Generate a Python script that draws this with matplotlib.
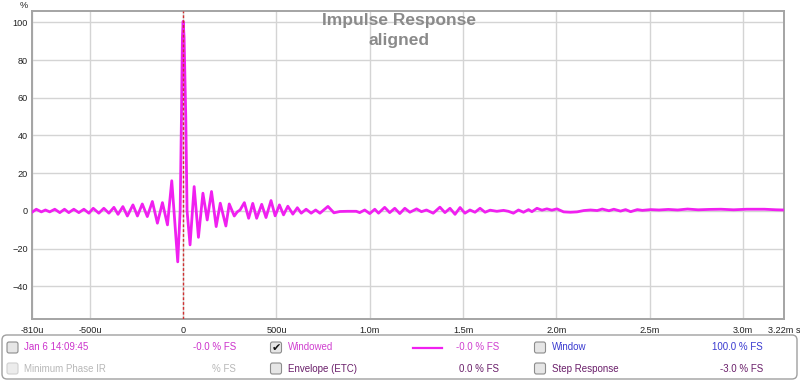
import numpy as np
import matplotlib
matplotlib.use("Agg")
import matplotlib.pyplot as plt
from matplotlib.patches import FancyBboxPatch

plt.rcParams['font.family'] = ['Liberation Sans', 'DejaVu Sans']

# impulse response (time in microseconds, value in %)
timeUs = [-810, -787, -760, -738, -715, -688, -661, -636, -613, -586, -559, -532,
          -505, -482, -452, -425, -398, -371, -349, -323, -299, -269, -245, -219,
          -192, -165, -138, -111, -84, -61, -29, -16, -9, -4, 0, 5, 14, 21, 37,
          59, 82, 106, 129, 152, 177, 199, 229, 247, 274, 290, 305, 328, 351, 373,
          394, 421, 444, 471, 493, 516, 538, 561, 588, 612, 633, 659, 686, 710,
          733, 776, 808, 840, 880, 928, 946, 973, 1000, 1027, 1047, 1080, 1107,
          1134, 1161, 1188, 1215, 1251, 1277, 1304, 1340, 1376, 1403, 1430, 1457,
          1484, 1510, 1537, 1564, 1591, 1618, 1645, 1681, 1717, 1743, 1770, 1797,
          1824, 1851, 1869, 1896, 1923, 1949, 1976, 2003, 2039, 2075, 2111, 2147,
          2183, 2219, 2246, 2282, 2308, 2344, 2371, 2398, 2434, 2461, 2506, 2550,
          2600, 2650, 2703, 2760, 2820, 2882, 2950, 3020, 3115, 3180, 3220]
response = [-0.7, 0.9, -0.5, 0.5, -0.5, 0.9, -0.9, 0.9, -0.9, 0.9, -0.9, 0.9,
            -1.2, 1.4, -1.2, 1.4, -1.2, 1.9, -1.8, 2.3, -2.7, 3.2, -2.7, 3.7,
            -3.0, 5.0, -6.5, 4.4, -7.4, 16.0, -27.0, 0.0, 50.0, 92.0, 100.5, 92.0, 50.0, 0.0, -18.0,
            12.9, -14.0, 9.4, -4.8, 10.3, -8.3, 4.1, -8.0, 3.7, -2.7, -0.5, 0.5, 4.4, -3.9, 4.0,
            -3.9, 3.5, -3.5, 5.5, -2.6, 3.2, -2.1, 2.5, -1.7, 1.7, -1.2, 0.9, -1.2, 0.5,
            -1.2, 2.4, -1.0, -0.3, -0.2, -0.2, -0.9, 0.5, -1.4, 0.9, -1.2, 1.9, -0.9,
            1.4, -1.4, 1.4, -0.7, 1.1, -0.4, 0.5, -1.2, 2.0, -0.9, 1.4, -1.8,
            1.8, -1.2, 0.5, -0.7, 1.4, -0.7, 0.4, -0.2, 0.3, -0.2, -1.2, 0.5,
            -0.7, 0.7, -0.4, 1.4, 0.4, 1.1, 0.4, 1.1, -0.5, -0.7, -0.5, 0.2,
            0.5, 0.2, 1.0, 0.1, 0.9, -0.1, 0.7, -0.4, 0.7, 0.3, 0.7, 0.5,
            0.8, 0.5, 1.0, 0.6, 0.8, 0.9, 0.6, 0.9, 0.9, 0.6, 0.5]

xTicks = [-810, -500, 0, 500, 1000, 1500, 2000, 2500, 3000, 3220]
xLabels = ["-810u", "-500u", "0", "500u", "1.0m", "1.5m", "2.0m", "2.5m", "3.0m", "3.22m s"]
yTicks = [-40, -20, 0, 20, 40, 60, 80, 100]

# legend rows: (checkbox state, name, name colour, value text, value colour)
legendCol1 = [("off", "Jan 6 14:09:45", "#cc33cc", "-0.0 % FS", "#cc33cc"),
              ("disabled", "Minimum Phase IR", "#b8b8b8", "% FS", "#b8b8b8")]
legendCol2 = [("on", "Windowed", "#d040d0", "-0.0 % FS", "#d040d0"),
              ("off", "Envelope (ETC)", "#6a1f6a", "0.0 % FS", "#6a1f6a")]
legendCol3 = [("off", "Window", "#3a3ad0", "100.0 % FS", "#3a3ad0"),
              ("off", "Step Response", "#6a1f6a", "-3.0 % FS", "#6a1f6a")]


def main():
    fig = plt.figure(figsize=(8, 3.81), dpi=100, facecolor="white")

    # overlay in pixel coordinates for the title block and the legend panel
    ov = fig.add_axes([0, 0, 1, 1], zorder=0)
    ov.set_xlim(0, 800)
    ov.set_ylim(381, 0)
    ov.axis("off")

    ax = fig.add_axes([32 / 800, 1 - 319 / 381, 752 / 800, 308 / 381], zorder=1)
    ax.set_xlim(-810, 3220)
    ax.set_ylim(-57.3, 106)
    ax.set_facecolor("white")

    ax.plot(timeUs, response, color="#f020f0", linewidth=2.0, zorder=3,
            solid_joinstyle="round")
    ax.axvline(0, color="#d03030", linewidth=1.0, linestyle=(0, (2, 1.5)), zorder=4)

    ax.set_xticks(xTicks)
    ax.set_xticklabels(xLabels)
    ax.set_yticks(yTicks)
    ax.grid(True, color="#d4d4d4", linewidth=1.0, zorder=0)
    ax.tick_params(length=0, labelsize=6.6, colors="#222222")
    ax.tick_params(axis="x", pad=5)
    ax.tick_params(axis="y", pad=3)
    for sp in ax.spines.values():
        sp.set_color("#a4a4a4")
        sp.set_linewidth(1.4)

    # title inside plot (two lines)
    ax.text(0.488, 1 - 10 / 308, "Impulse Response", transform=ax.transAxes,
            ha="center", va="center", fontsize=12.5, fontweight="bold",
            color="#8a8a8a", zorder=5)
    ax.text(0.488, 1 - 30 / 308, "aligned", transform=ax.transAxes,
            ha="center", va="center", fontsize=12.5, fontweight="bold",
            color="#8a8a8a", zorder=5)

    ov.text(24, 5, "%", fontsize=6.6, color="#222222", ha="center", va="center")

    # legend panel
    panel = FancyBboxPatch((2, 335), 795, 44, boxstyle="round,pad=0,rounding_size=5",
                           facecolor="white", edgecolor="#a0a0a0", linewidth=1.0)
    ov.add_patch(panel)

    rowsY = [347.5, 368.5]
    columns = [(legendCol1, 12.5, 24, 236),
               (legendCol2, 276, 288, 499),
               (legendCol3, 540, 552, 763)]
    for items, boxX, textX, valX in columns:
        for (state, name, nameCol, val, valCol), y in zip(items, rowsY):
            if state == "disabled":
                face, edge = "#ececec", "#d0d0d0"
            else:
                face, edge = "#e6e6e6", "#8c8c8c"
            box = FancyBboxPatch((boxX - 5.5, y - 5.5), 11, 11,
                                 boxstyle="round,pad=0,rounding_size=2",
                                 facecolor=face, edgecolor=edge, linewidth=0.8)
            ov.add_patch(box)
            if state == "on":
                ov.text(boxX + 0.5, y, "\u2714", fontsize=8, color="#111111",
                        ha="center", va="center", family=["DejaVu Sans"])
            ov.text(textX, y, name, fontsize=7, color=nameCol, ha="left", va="center")
            ov.text(valX, y, val, fontsize=7, color=valCol, ha="right", va="center")

    # line sample for the windowed curve
    ov.plot([413, 442], [rowsY[0], rowsY[0]], color="#f020f0", linewidth=1.6)

    fig.savefig("out.png", dpi=100, facecolor="white")


if __name__ == "__main__":
    main()
